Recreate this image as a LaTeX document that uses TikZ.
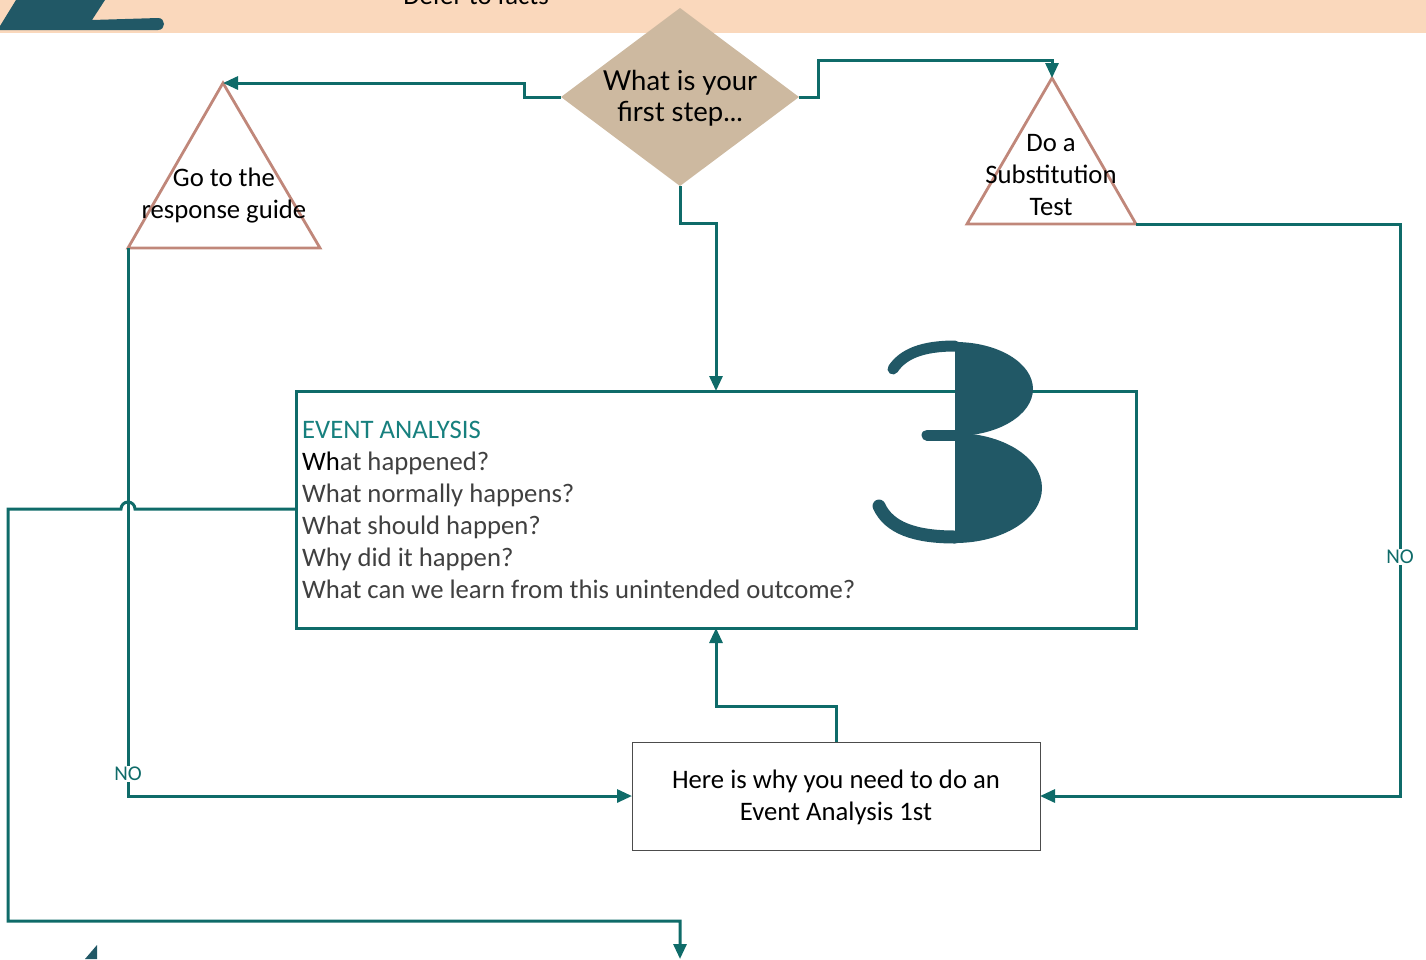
\documentclass[tikz,border=0pt]{standalone}
\usepackage{fontspec}
\setmainfont{Carlito}
\newfontfamily\dfont{Lato}
\usetikzlibrary{arrows.meta}
\definecolor{teal1}{HTML}{0F6B69}
\definecolor{tealtxt}{HTML}{17807E}
\definecolor{peach}{HTML}{FAD8BC}
\definecolor{dkteal}{HTML}{215866}
\definecolor{rose}{HTML}{C0877A}
\definecolor{tan}{HTML}{CDB9A0}
\definecolor{bodygray}{HTML}{404040}
\tikzset{
  conn/.style={draw=teal1, line width=3pt},
  arr/.style={conn, -{Triangle[length=15pt,width=13pt]}},
  tri/.style={draw=rose, line width=2.8pt, line join=miter},
  txt/.style={font=\fontsize{26.7}{31}\selectfont, inner sep=0pt, anchor=base},
  etxt/.style={font=\fontsize{26.7}{31}\selectfont, inner sep=0pt, anchor=base west, text=bodygray},
  nolabel/.style={font=\fontsize{21}{25}\selectfont, text=teal1, fill=white, inner sep=1.5pt},
  threestroke/.style={draw=dkteal, line cap=round}
}
\begin{document}
\begin{tikzpicture}[x=1pt,y=1pt]
\useasboundingbox (0,0) rectangle (1426,-959);
% top band
\fill[peach] (0,0) rectangle (1426,-33);
\fill[dkteal] (0,-26) -- (16,0) -- (105,0) -- (92,-20) -- (158,-18)
  .. controls (166,-18) and (166,-30) .. (158,-30) -- (0,-30) -- cycle;
\node[txt] (defer) at (476,-4) {Defer to facts};
% bottom-left wedge
\fill[dkteal] (85,-959) -- (97,-945) -- (97,-959) -- cycle;
% diamond
\coordinate (dT) at (680,-8);
\coordinate (dB) at (680,-186);
\coordinate (dL) at (561,-97);
\coordinate (dR) at (799,-97);
\fill[tan] (dT) -- (dR) -- (dB) -- (dL) -- cycle;
\node[txt, font=\dfont\fontsize{27.5}{31}\selectfont] (q1) at (680,-90) {What is your};
\node[txt, font=\dfont\fontsize{27.5}{31}\selectfont] (q2) at (680,-121) {first step...};
% left triangle
\coordinate (lA) at (223,-83);
\coordinate (lL) at (128,-248);
\coordinate (lR) at (320,-248);
\draw[tri] (lA) -- (lR) -- (lL) -- cycle;
\node[txt] (g1) at (224,-186) {Go to the};
\node[txt] (g2) at (224,-218) {response guide};
% right triangle
\coordinate (rA) at (1052,-78);
\coordinate (rL) at (967,-224);
\coordinate (rR) at (1136,-224);
\draw[tri] (rA) -- (rR) -- (rL) -- cycle;
\node[txt] (s1) at (1051,-151) {Do a};
\node[txt] (s2) at (1051,-183) {Substitution};
\node[txt] (s3) at (1051,-215) {Test};
% event box
\node[draw=teal1, line width=3pt, minimum width=840pt, minimum height=237pt, inner sep=0pt, outer sep=0pt, anchor=north west] (ev) at (296,-391) {};
\node[etxt, text=tealtxt] (e0) at (302,-438) {EVENT ANALYSIS};
\node[etxt] (e1) at (302,-470) {{\color{black}Wh}at happened?};
\node[etxt] (e2) at (302,-502) {What normally happens?};
\node[etxt] (e3) at (302,-534) {What should happen?};
\node[etxt] (e4) at (302,-566) {Why did it happen?};
\node[etxt] (e5) at (302,-598) {What can we learn from this unintended outcome?};
% big 3 (drawn over the box)
\fill[dkteal] (955,-342) arc[start angle=90, end angle=-90, x radius=78, y radius=47] -- cycle;
\fill[dkteal] (955,-433) arc[start angle=90, end angle=-90, x radius=87, y radius=55] -- cycle;
\draw[threestroke, line width=11pt] (955,-346) .. controls (922,-346) and (903,-354) .. (893,-369);
\draw[threestroke, line width=13pt] (955,-537) .. controls (915,-537) and (889,-528) .. (879,-506);
\draw[threestroke, line width=11pt] (927,-435) -- (955,-435);
\node[inner sep=0pt] (three) at (955,-442) {};
% bottom box
\node[draw=black!70, line width=0.9pt, minimum width=408pt, minimum height=108pt, inner sep=0pt, outer sep=0pt, anchor=north west] (hb) at (632,-742) {};
\node[txt] (h1) at (836,-788) {Here is why you need to do an};
\node[txt] (h2) at (836,-820) {Event Analysis 1st};
% connectors
\draw[arr] (dL) -- (524,-97) -- (524,-83) -- (lA);
\draw[arr] (dR) -- (818,-97) -- (818,-60) -- (1052,-60) -- (rA);
\draw[arr] (dB) -- (680,-223) -- (716,-223) -- (ev.north -| 716,0);
\draw[arr] (lL) -- (128,-796) -- (hb.west);
\draw[arr] (rR) -- (1400,-224) -- (1400,-796) -- (hb.east);
\draw[arr] (hb.north) -- (836,-706) -- (716,-706) -- (ev.south -| 716,0);
\coordinate (bend) at (680,-959);
\draw[arr] (ev.west |- 0,-509) -- (135,-509) arc (0:180:7) -- (8,-509) -- (8,-921) -- (680,-921) -- (bend);
% labels
\node[nolabel] (no1) at (128,-774) {NO};
\node[nolabel] (no2) at (1400,-557) {NO};
\end{tikzpicture}
\end{document}
